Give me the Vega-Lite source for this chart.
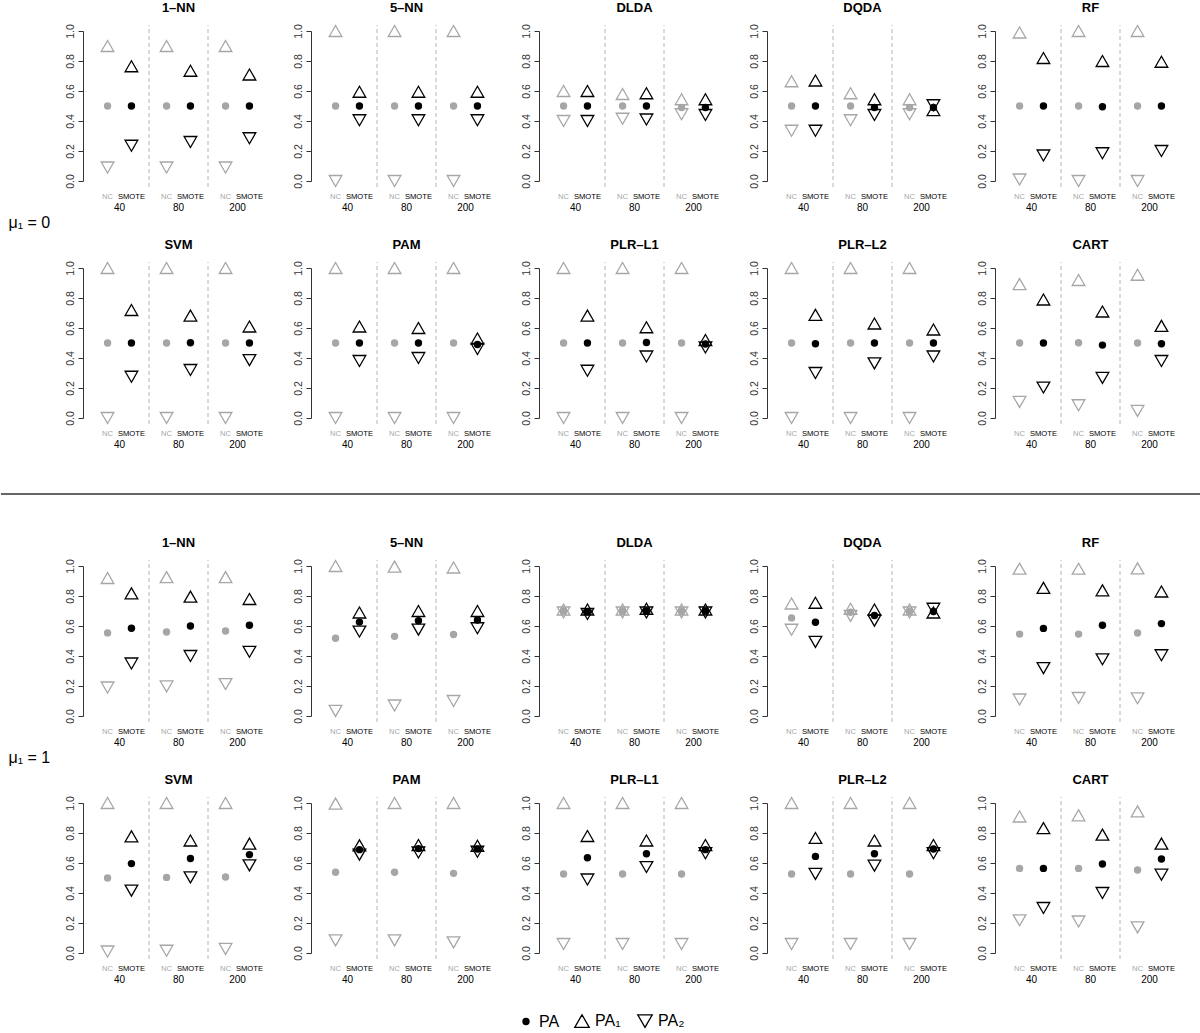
{
  "$schema": "https://vega.github.io/schema/vega-lite/v6.json",
  "padding": {"left": 0, "top": 2, "right": 0, "bottom": 0},
  "background": "white",
  "data": {"values": [
    {"mu":0,"m":"1–NN","n":"40","t":"NC","PA":0.5,"PA1":0.9,"PA2":0.09},
    {"mu":0,"m":"1–NN","n":"40","t":"SMOTE","PA":0.5,"PA1":0.765,"PA2":0.235},
    {"mu":0,"m":"1–NN","n":"80","t":"NC","PA":0.5,"PA1":0.9,"PA2":0.09},
    {"mu":0,"m":"1–NN","n":"80","t":"SMOTE","PA":0.5,"PA1":0.735,"PA2":0.26},
    {"mu":0,"m":"1–NN","n":"200","t":"NC","PA":0.5,"PA1":0.9,"PA2":0.09},
    {"mu":0,"m":"1–NN","n":"200","t":"SMOTE","PA":0.5,"PA1":0.71,"PA2":0.285},
    {"mu":0,"m":"5–NN","n":"40","t":"NC","PA":0.5,"PA1":1.0,"PA2":0.0},
    {"mu":0,"m":"5–NN","n":"40","t":"SMOTE","PA":0.5,"PA1":0.595,"PA2":0.405},
    {"mu":0,"m":"5–NN","n":"80","t":"NC","PA":0.5,"PA1":1.0,"PA2":0.0},
    {"mu":0,"m":"5–NN","n":"80","t":"SMOTE","PA":0.5,"PA1":0.595,"PA2":0.405},
    {"mu":0,"m":"5–NN","n":"200","t":"NC","PA":0.5,"PA1":1.0,"PA2":0.0},
    {"mu":0,"m":"5–NN","n":"200","t":"SMOTE","PA":0.5,"PA1":0.595,"PA2":0.405},
    {"mu":0,"m":"DLDA","n":"40","t":"NC","PA":0.5,"PA1":0.6,"PA2":0.4},
    {"mu":0,"m":"DLDA","n":"40","t":"SMOTE","PA":0.5,"PA1":0.6,"PA2":0.4},
    {"mu":0,"m":"DLDA","n":"80","t":"NC","PA":0.5,"PA1":0.58,"PA2":0.415},
    {"mu":0,"m":"DLDA","n":"80","t":"SMOTE","PA":0.5,"PA1":0.585,"PA2":0.41},
    {"mu":0,"m":"DLDA","n":"200","t":"NC","PA":0.49,"PA1":0.545,"PA2":0.445},
    {"mu":0,"m":"DLDA","n":"200","t":"SMOTE","PA":0.49,"PA1":0.545,"PA2":0.44},
    {"mu":0,"m":"DQDA","n":"40","t":"NC","PA":0.5,"PA1":0.665,"PA2":0.335},
    {"mu":0,"m":"DQDA","n":"40","t":"SMOTE","PA":0.5,"PA1":0.67,"PA2":0.335},
    {"mu":0,"m":"DQDA","n":"80","t":"NC","PA":0.5,"PA1":0.585,"PA2":0.405},
    {"mu":0,"m":"DQDA","n":"80","t":"SMOTE","PA":0.49,"PA1":0.545,"PA2":0.44},
    {"mu":0,"m":"DQDA","n":"200","t":"NC","PA":0.49,"PA1":0.545,"PA2":0.445},
    {"mu":0,"m":"DQDA","n":"200","t":"SMOTE","PA":0.49,"PA1":0.473,"PA2":0.505},
    {"mu":0,"m":"RF","n":"40","t":"NC","PA":0.5,"PA1":0.99,"PA2":0.01},
    {"mu":0,"m":"RF","n":"40","t":"SMOTE","PA":0.5,"PA1":0.82,"PA2":0.17},
    {"mu":0,"m":"RF","n":"80","t":"NC","PA":0.5,"PA1":1.0,"PA2":0.0},
    {"mu":0,"m":"RF","n":"80","t":"SMOTE","PA":0.495,"PA1":0.8,"PA2":0.185},
    {"mu":0,"m":"RF","n":"200","t":"NC","PA":0.5,"PA1":1.0,"PA2":0.0},
    {"mu":0,"m":"RF","n":"200","t":"SMOTE","PA":0.5,"PA1":0.795,"PA2":0.2},
    {"mu":0,"m":"SVM","n":"40","t":"NC","PA":0.5,"PA1":1.0,"PA2":0.0},
    {"mu":0,"m":"SVM","n":"40","t":"SMOTE","PA":0.5,"PA1":0.72,"PA2":0.275},
    {"mu":0,"m":"SVM","n":"80","t":"NC","PA":0.5,"PA1":1.0,"PA2":0.0},
    {"mu":0,"m":"SVM","n":"80","t":"SMOTE","PA":0.502,"PA1":0.683,"PA2":0.32},
    {"mu":0,"m":"SVM","n":"200","t":"NC","PA":0.5,"PA1":1.0,"PA2":0.0},
    {"mu":0,"m":"SVM","n":"200","t":"SMOTE","PA":0.5,"PA1":0.61,"PA2":0.386},
    {"mu":0,"m":"PAM","n":"40","t":"NC","PA":0.5,"PA1":1.0,"PA2":0.0},
    {"mu":0,"m":"PAM","n":"40","t":"SMOTE","PA":0.5,"PA1":0.61,"PA2":0.38},
    {"mu":0,"m":"PAM","n":"80","t":"NC","PA":0.5,"PA1":1.0,"PA2":0.0},
    {"mu":0,"m":"PAM","n":"80","t":"SMOTE","PA":0.5,"PA1":0.6,"PA2":0.4},
    {"mu":0,"m":"PAM","n":"200","t":"NC","PA":0.5,"PA1":1.0,"PA2":0.0},
    {"mu":0,"m":"PAM","n":"200","t":"SMOTE","PA":0.49,"PA1":0.53,"PA2":0.46},
    {"mu":0,"m":"PLR–L1","n":"40","t":"NC","PA":0.5,"PA1":1.0,"PA2":0.0},
    {"mu":0,"m":"PLR–L1","n":"40","t":"SMOTE","PA":0.5,"PA1":0.683,"PA2":0.315},
    {"mu":0,"m":"PLR–L1","n":"80","t":"NC","PA":0.5,"PA1":1.0,"PA2":0.0},
    {"mu":0,"m":"PLR–L1","n":"80","t":"SMOTE","PA":0.503,"PA1":0.605,"PA2":0.41},
    {"mu":0,"m":"PLR–L1","n":"200","t":"NC","PA":0.5,"PA1":1.0,"PA2":0.0},
    {"mu":0,"m":"PLR–L1","n":"200","t":"SMOTE","PA":0.493,"PA1":0.52,"PA2":0.47},
    {"mu":0,"m":"PLR–L2","n":"40","t":"NC","PA":0.5,"PA1":1.0,"PA2":0.0},
    {"mu":0,"m":"PLR–L2","n":"40","t":"SMOTE","PA":0.495,"PA1":0.688,"PA2":0.3},
    {"mu":0,"m":"PLR–L2","n":"80","t":"NC","PA":0.5,"PA1":1.0,"PA2":0.0},
    {"mu":0,"m":"PLR–L2","n":"80","t":"SMOTE","PA":0.5,"PA1":0.63,"PA2":0.364},
    {"mu":0,"m":"PLR–L2","n":"200","t":"NC","PA":0.5,"PA1":1.0,"PA2":0.0},
    {"mu":0,"m":"PLR–L2","n":"200","t":"SMOTE","PA":0.5,"PA1":0.59,"PA2":0.41},
    {"mu":0,"m":"CART","n":"40","t":"NC","PA":0.5,"PA1":0.893,"PA2":0.107},
    {"mu":0,"m":"CART","n":"40","t":"SMOTE","PA":0.5,"PA1":0.79,"PA2":0.203},
    {"mu":0,"m":"CART","n":"80","t":"NC","PA":0.502,"PA1":0.92,"PA2":0.085},
    {"mu":0,"m":"CART","n":"80","t":"SMOTE","PA":0.486,"PA1":0.71,"PA2":0.267},
    {"mu":0,"m":"CART","n":"200","t":"NC","PA":0.5,"PA1":0.955,"PA2":0.047},
    {"mu":0,"m":"CART","n":"200","t":"SMOTE","PA":0.495,"PA1":0.614,"PA2":0.38},
    {"mu":1,"m":"1–NN","n":"40","t":"NC","PA":0.554,"PA1":0.92,"PA2":0.19},
    {"mu":1,"m":"1–NN","n":"40","t":"SMOTE","PA":0.585,"PA1":0.818,"PA2":0.35},
    {"mu":1,"m":"1–NN","n":"80","t":"NC","PA":0.56,"PA1":0.926,"PA2":0.197},
    {"mu":1,"m":"1–NN","n":"80","t":"SMOTE","PA":0.6,"PA1":0.796,"PA2":0.4},
    {"mu":1,"m":"1–NN","n":"200","t":"NC","PA":0.567,"PA1":0.926,"PA2":0.213},
    {"mu":1,"m":"1–NN","n":"200","t":"SMOTE","PA":0.605,"PA1":0.78,"PA2":0.428},
    {"mu":1,"m":"5–NN","n":"40","t":"NC","PA":0.518,"PA1":1.0,"PA2":0.034},
    {"mu":1,"m":"5–NN","n":"40","t":"SMOTE","PA":0.626,"PA1":0.69,"PA2":0.563},
    {"mu":1,"m":"5–NN","n":"80","t":"NC","PA":0.531,"PA1":0.996,"PA2":0.07},
    {"mu":1,"m":"5–NN","n":"80","t":"SMOTE","PA":0.635,"PA1":0.7,"PA2":0.576},
    {"mu":1,"m":"5–NN","n":"200","t":"NC","PA":0.543,"PA1":0.99,"PA2":0.1},
    {"mu":1,"m":"5–NN","n":"200","t":"SMOTE","PA":0.64,"PA1":0.7,"PA2":0.585},
    {"mu":1,"m":"DLDA","n":"40","t":"NC","PA":0.7,"PA1":0.71,"PA2":0.69},
    {"mu":1,"m":"DLDA","n":"40","t":"SMOTE","PA":0.695,"PA1":0.71,"PA2":0.68},
    {"mu":1,"m":"DLDA","n":"80","t":"NC","PA":0.7,"PA1":0.71,"PA2":0.69},
    {"mu":1,"m":"DLDA","n":"80","t":"SMOTE","PA":0.7,"PA1":0.715,"PA2":0.69},
    {"mu":1,"m":"DLDA","n":"200","t":"NC","PA":0.7,"PA1":0.71,"PA2":0.69},
    {"mu":1,"m":"DLDA","n":"200","t":"SMOTE","PA":0.7,"PA1":0.71,"PA2":0.69},
    {"mu":1,"m":"DQDA","n":"40","t":"NC","PA":0.654,"PA1":0.75,"PA2":0.575},
    {"mu":1,"m":"DQDA","n":"40","t":"SMOTE","PA":0.625,"PA1":0.755,"PA2":0.494},
    {"mu":1,"m":"DQDA","n":"80","t":"NC","PA":0.692,"PA1":0.715,"PA2":0.667},
    {"mu":1,"m":"DQDA","n":"80","t":"SMOTE","PA":0.67,"PA1":0.71,"PA2":0.636},
    {"mu":1,"m":"DQDA","n":"200","t":"NC","PA":0.697,"PA1":0.71,"PA2":0.69},
    {"mu":1,"m":"DQDA","n":"200","t":"SMOTE","PA":0.697,"PA1":0.69,"PA2":0.715},
    {"mu":1,"m":"RF","n":"40","t":"NC","PA":0.546,"PA1":0.982,"PA2":0.11},
    {"mu":1,"m":"RF","n":"40","t":"SMOTE","PA":0.584,"PA1":0.854,"PA2":0.319},
    {"mu":1,"m":"RF","n":"80","t":"NC","PA":0.546,"PA1":0.982,"PA2":0.12},
    {"mu":1,"m":"RF","n":"80","t":"SMOTE","PA":0.605,"PA1":0.838,"PA2":0.378},
    {"mu":1,"m":"RF","n":"200","t":"NC","PA":0.553,"PA1":0.984,"PA2":0.118},
    {"mu":1,"m":"RF","n":"200","t":"SMOTE","PA":0.616,"PA1":0.83,"PA2":0.405},
    {"mu":1,"m":"SVM","n":"40","t":"NC","PA":0.5,"PA1":1.0,"PA2":0.01},
    {"mu":1,"m":"SVM","n":"40","t":"SMOTE","PA":0.596,"PA1":0.778,"PA2":0.416},
    {"mu":1,"m":"SVM","n":"80","t":"NC","PA":0.504,"PA1":1.0,"PA2":0.015},
    {"mu":1,"m":"SVM","n":"80","t":"SMOTE","PA":0.63,"PA1":0.75,"PA2":0.504},
    {"mu":1,"m":"SVM","n":"200","t":"NC","PA":0.507,"PA1":1.0,"PA2":0.027},
    {"mu":1,"m":"SVM","n":"200","t":"SMOTE","PA":0.656,"PA1":0.729,"PA2":0.584},
    {"mu":1,"m":"PAM","n":"40","t":"NC","PA":0.538,"PA1":0.996,"PA2":0.084},
    {"mu":1,"m":"PAM","n":"40","t":"SMOTE","PA":0.689,"PA1":0.718,"PA2":0.656},
    {"mu":1,"m":"PAM","n":"80","t":"NC","PA":0.538,"PA1":1.0,"PA2":0.084},
    {"mu":1,"m":"PAM","n":"80","t":"SMOTE","PA":0.696,"PA1":0.72,"PA2":0.67},
    {"mu":1,"m":"PAM","n":"200","t":"NC","PA":0.531,"PA1":1.0,"PA2":0.071},
    {"mu":1,"m":"PAM","n":"200","t":"SMOTE","PA":0.693,"PA1":0.715,"PA2":0.675},
    {"mu":1,"m":"PLR–L1","n":"40","t":"NC","PA":0.527,"PA1":1.0,"PA2":0.06},
    {"mu":1,"m":"PLR–L1","n":"40","t":"SMOTE","PA":0.635,"PA1":0.78,"PA2":0.49},
    {"mu":1,"m":"PLR–L1","n":"80","t":"NC","PA":0.527,"PA1":1.0,"PA2":0.06},
    {"mu":1,"m":"PLR–L1","n":"80","t":"SMOTE","PA":0.662,"PA1":0.75,"PA2":0.573},
    {"mu":1,"m":"PLR–L1","n":"200","t":"NC","PA":0.527,"PA1":1.0,"PA2":0.06},
    {"mu":1,"m":"PLR–L1","n":"200","t":"SMOTE","PA":0.689,"PA1":0.72,"PA2":0.665},
    {"mu":1,"m":"PLR–L2","n":"40","t":"NC","PA":0.527,"PA1":1.0,"PA2":0.06},
    {"mu":1,"m":"PLR–L2","n":"40","t":"SMOTE","PA":0.644,"PA1":0.767,"PA2":0.527},
    {"mu":1,"m":"PLR–L2","n":"80","t":"NC","PA":0.527,"PA1":1.0,"PA2":0.06},
    {"mu":1,"m":"PLR–L2","n":"80","t":"SMOTE","PA":0.662,"PA1":0.75,"PA2":0.582},
    {"mu":1,"m":"PLR–L2","n":"200","t":"NC","PA":0.527,"PA1":1.0,"PA2":0.06},
    {"mu":1,"m":"PLR–L2","n":"200","t":"SMOTE","PA":0.693,"PA1":0.72,"PA2":0.665},
    {"mu":1,"m":"CART","n":"40","t":"NC","PA":0.564,"PA1":0.91,"PA2":0.218},
    {"mu":1,"m":"CART","n":"40","t":"SMOTE","PA":0.564,"PA1":0.833,"PA2":0.3},
    {"mu":1,"m":"CART","n":"80","t":"NC","PA":0.564,"PA1":0.918,"PA2":0.21},
    {"mu":1,"m":"CART","n":"80","t":"SMOTE","PA":0.593,"PA1":0.789,"PA2":0.4},
    {"mu":1,"m":"CART","n":"200","t":"NC","PA":0.553,"PA1":0.944,"PA2":0.171},
    {"mu":1,"m":"CART","n":"200","t":"SMOTE","PA":0.627,"PA1":0.729,"PA2":0.522}
  ]},
  "config": {
    "view": {"stroke": null},
    "font": "Liberation Sans",
    "header": {"labelFontSize": 13, "labelFontWeight": "bold", "labelFont": "Liberation Sans", "labelColor": "black", "labelPadding": 7},
    "title": {"fontSize": 16, "fontWeight": "normal", "color": "black", "font": "Liberation Sans"},
    "axisX": {"domain": false, "ticks": false, "grid": false, "labelAngle": 0, "labelPadding": 1, "labelFontSize": 10, "labelColor": "black", "labelFont": "Liberation Sans"},
    "axisY": {"grid": false, "tickCount": 5, "format": ".1f", "labelAngle": -90, "offset": 7, "tickSize": 5, "domainColor": "#333333", "tickColor": "#333333", "labelColor": "#333333", "labelFontSize": 10.5, "labelPadding": 3, "labelFont": "Liberation Sans"},
    "legend": {"layout": {"bottom": {"anchor": "middle", "margin": 14, "center": true}}}
  },
  "spacing": 0,
  "vconcat": [
    {
      "spacing": 8,
      "vconcat": [
        {
          "title": {"text": "μ₁ = 0", "orient": "bottom", "anchor": "start", "dx": -56.5, "offset": 3},
          "transform": [{"filter": {"field": "mu", "equal": 0}}, {"filter": {"field": "m", "oneOf": ["1–NN","5–NN","DLDA","DQDA","RF"]}}],
          "facet": {"column": {"field": "m", "title": null, "sort": ["1–NN","5–NN","DLDA","DQDA","RF"]}},
          "spacing": {"column": 26},
          "resolve": {"axis": {"y": "independent"}},
          "spec": {
            "width": 177, "height": 150,
            "layer": [
              {"transform": [{"filter": "datum.t == 'NC' && datum.n != '40'"}],
               "mark": {"type": "rule", "strokeDash": [4, 3], "color": "#b4b4b4", "strokeWidth": 1},
               "encoding": {"x": {"field": "n", "type": "ordinal", "title": null, "sort": ["40","80","200"], "scale": {"type": "band", "paddingInner": 0, "paddingOuter": 0}, "bandPosition": 0},
                            "y": {"datum": -0.04, "type": "quantitative", "scale": {"domain": [0, 1]}}, "y2": {"datum": 1.04}}},
              {"mark": {"type": "text", "fontSize": 7.6, "baseline": "middle"},
               "encoding": {"x": {"field": "n", "type": "ordinal", "title": null, "sort": ["40","80","200"], "scale": {"type": "band", "paddingInner": 0, "paddingOuter": 0}},
                            "xOffset": {"field": "t", "type": "nominal", "sort": ["NC","SMOTE"], "scale": {"type": "band", "paddingInner": 0, "paddingOuter": 0.235}},
                            "y": {"datum": -0.107, "type": "quantitative"},
                            "text": {"field": "t"},
                            "color": {"field": "t", "type": "nominal", "scale": {"domain": ["NC","SMOTE"], "range": ["#a6a6a6","#000000"]}, "legend": null}}},
              {"mark": {"type": "point", "shape": "circle", "filled": true, "opacity": 1},
               "encoding": {"x": {"field": "n", "type": "ordinal", "title": null, "sort": ["40","80","200"], "scale": {"type": "band", "paddingInner": 0, "paddingOuter": 0}},
                            "xOffset": {"field": "t", "type": "nominal", "sort": ["NC","SMOTE"], "scale": {"type": "band", "paddingInner": 0, "paddingOuter": 0.235}},
                            "y": {"field": "PA", "type": "quantitative", "title": null, "scale": {"domain": [0, 1]}},
                            "color": {"field": "t", "type": "nominal", "scale": {"domain": ["NC","SMOTE"], "range": ["#a6a6a6","#000000"]}, "legend": null},
                            "size": {"datum": "PA", "type": "ordinal", "scale": {"domain": ["PA"], "range": [55, 55]},
                                     "legend": {"title": null, "orient": "bottom", "direction": "horizontal", "offset": 8, "labelFontSize": 16, "labelColor": "black", "symbolType": "circle", "symbolFillColor": "black", "symbolStrokeColor": "black", "symbolStrokeWidth": 0, "labelOffset": 5}}}},
              {"transform": [{"fold": ["PA1","PA2"], "as": ["measure","value"]}],
               "mark": {"type": "point", "filled": false, "size": 160, "strokeWidth": 1.3, "opacity": 1},
               "encoding": {"x": {"field": "n", "type": "ordinal", "title": null, "sort": ["40","80","200"], "scale": {"type": "band", "paddingInner": 0, "paddingOuter": 0}},
                            "xOffset": {"field": "t", "type": "nominal", "sort": ["NC","SMOTE"], "scale": {"type": "band", "paddingInner": 0, "paddingOuter": 0.235}},
                            "y": {"field": "value", "type": "quantitative", "title": null, "scale": {"domain": [0, 1]}},
                            "color": {"field": "t", "type": "nominal", "scale": {"domain": ["NC","SMOTE"], "range": ["#a6a6a6","#000000"]}, "legend": null},
                            "shape": {"field": "measure", "type": "nominal", "scale": {"domain": ["PA1","PA2"], "range": ["triangle-up","triangle-down"]},
                                      "legend": {"title": null, "orient": "bottom", "direction": "horizontal", "offset": 8, "labelFontSize": 16, "labelColor": "black", "symbolSize": 210, "symbolStrokeWidth": 1.3, "symbolStrokeColor": "black", "symbolFillColor": "transparent", "columnPadding": 14, "labelOffset": 5,
                                                 "labelExpr": "datum.value == 'PA1' ? 'PA₁' : 'PA₂'"}}}}
            ]
          }
        },
        {
          "title": {"text": "  ", "orient": "bottom", "anchor": "start", "dx": -56.5, "offset": 5},
          "transform": [{"filter": {"field": "mu", "equal": 0}}, {"filter": {"field": "m", "oneOf": ["SVM","PAM","PLR–L1","PLR–L2","CART"]}}],
          "facet": {"column": {"field": "m", "title": null, "sort": ["SVM","PAM","PLR–L1","PLR–L2","CART"]}},
          "spacing": {"column": 26},
          "resolve": {"axis": {"y": "independent"}},
          "spec": {
            "width": 177, "height": 150,
            "layer": [
              {"transform": [{"filter": "datum.t == 'NC' && datum.n != '40'"}],
               "mark": {"type": "rule", "strokeDash": [4, 3], "color": "#b4b4b4", "strokeWidth": 1},
               "encoding": {"x": {"field": "n", "type": "ordinal", "title": null, "sort": ["40","80","200"], "scale": {"type": "band", "paddingInner": 0, "paddingOuter": 0}, "bandPosition": 0},
                            "y": {"datum": -0.04, "type": "quantitative", "scale": {"domain": [0, 1]}}, "y2": {"datum": 1.04}}},
              {"mark": {"type": "text", "fontSize": 7.6, "baseline": "middle"},
               "encoding": {"x": {"field": "n", "type": "ordinal", "title": null, "sort": ["40","80","200"], "scale": {"type": "band", "paddingInner": 0, "paddingOuter": 0}},
                            "xOffset": {"field": "t", "type": "nominal", "sort": ["NC","SMOTE"], "scale": {"type": "band", "paddingInner": 0, "paddingOuter": 0.235}},
                            "y": {"datum": -0.107, "type": "quantitative"},
                            "text": {"field": "t"},
                            "color": {"field": "t", "type": "nominal", "scale": {"domain": ["NC","SMOTE"], "range": ["#a6a6a6","#000000"]}, "legend": null}}},
              {"mark": {"type": "point", "shape": "circle", "filled": true, "opacity": 1},
               "encoding": {"x": {"field": "n", "type": "ordinal", "title": null, "sort": ["40","80","200"], "scale": {"type": "band", "paddingInner": 0, "paddingOuter": 0}},
                            "xOffset": {"field": "t", "type": "nominal", "sort": ["NC","SMOTE"], "scale": {"type": "band", "paddingInner": 0, "paddingOuter": 0.235}},
                            "y": {"field": "PA", "type": "quantitative", "title": null, "scale": {"domain": [0, 1]}},
                            "color": {"field": "t", "type": "nominal", "scale": {"domain": ["NC","SMOTE"], "range": ["#a6a6a6","#000000"]}, "legend": null},
                            "size": {"datum": "PA", "type": "ordinal", "scale": {"domain": ["PA"], "range": [55, 55]},
                                     "legend": {"title": null, "orient": "bottom", "direction": "horizontal", "offset": 8, "labelFontSize": 16, "labelColor": "black", "symbolType": "circle", "symbolFillColor": "black", "symbolStrokeColor": "black", "symbolStrokeWidth": 0, "labelOffset": 5}}}},
              {"transform": [{"fold": ["PA1","PA2"], "as": ["measure","value"]}],
               "mark": {"type": "point", "filled": false, "size": 160, "strokeWidth": 1.3, "opacity": 1},
               "encoding": {"x": {"field": "n", "type": "ordinal", "title": null, "sort": ["40","80","200"], "scale": {"type": "band", "paddingInner": 0, "paddingOuter": 0}},
                            "xOffset": {"field": "t", "type": "nominal", "sort": ["NC","SMOTE"], "scale": {"type": "band", "paddingInner": 0, "paddingOuter": 0.235}},
                            "y": {"field": "value", "type": "quantitative", "title": null, "scale": {"domain": [0, 1]}},
                            "color": {"field": "t", "type": "nominal", "scale": {"domain": ["NC","SMOTE"], "range": ["#a6a6a6","#000000"]}, "legend": null},
                            "shape": {"field": "measure", "type": "nominal", "scale": {"domain": ["PA1","PA2"], "range": ["triangle-up","triangle-down"]},
                                      "legend": {"title": null, "orient": "bottom", "direction": "horizontal", "offset": 8, "labelFontSize": 16, "labelColor": "black", "symbolSize": 210, "symbolStrokeWidth": 1.3, "symbolStrokeColor": "black", "symbolFillColor": "transparent", "columnPadding": 14, "labelOffset": 5,
                                                 "labelExpr": "datum.value == 'PA1' ? 'PA₁' : 'PA₂'"}}}}
            ]
          }
        }
      ]
    },
    {
      "data": {"values": [{"k": "separator"}]},
      "width": 1111, "height": 67,
      "mark": {"type": "rule", "color": "#333333", "strokeWidth": 1.4},
      "encoding": {
        "x": {"datum": -89, "type": "quantitative", "scale": {"domain": [0, 1111]}, "axis": null},
        "x2": {"datum": 1111},
        "y": {"datum": 0.642, "type": "quantitative", "scale": {"domain": [0, 1]}, "axis": null}
      }
    },
    {
      "spacing": 8,
      "vconcat": [
        {
          "title": {"text": "μ₁ = 1", "orient": "bottom", "anchor": "start", "dx": -56.5, "offset": 3},
          "transform": [{"filter": {"field": "mu", "equal": 1}}, {"filter": {"field": "m", "oneOf": ["1–NN","5–NN","DLDA","DQDA","RF"]}}],
          "facet": {"column": {"field": "m", "title": null, "sort": ["1–NN","5–NN","DLDA","DQDA","RF"]}},
          "spacing": {"column": 26},
          "resolve": {"axis": {"y": "independent"}},
          "spec": {
            "width": 177, "height": 150,
            "layer": [
              {"transform": [{"filter": "datum.t == 'NC' && datum.n != '40'"}],
               "mark": {"type": "rule", "strokeDash": [4, 3], "color": "#b4b4b4", "strokeWidth": 1},
               "encoding": {"x": {"field": "n", "type": "ordinal", "title": null, "sort": ["40","80","200"], "scale": {"type": "band", "paddingInner": 0, "paddingOuter": 0}, "bandPosition": 0},
                            "y": {"datum": -0.04, "type": "quantitative", "scale": {"domain": [0, 1]}}, "y2": {"datum": 1.04}}},
              {"mark": {"type": "text", "fontSize": 7.6, "baseline": "middle"},
               "encoding": {"x": {"field": "n", "type": "ordinal", "title": null, "sort": ["40","80","200"], "scale": {"type": "band", "paddingInner": 0, "paddingOuter": 0}},
                            "xOffset": {"field": "t", "type": "nominal", "sort": ["NC","SMOTE"], "scale": {"type": "band", "paddingInner": 0, "paddingOuter": 0.235}},
                            "y": {"datum": -0.107, "type": "quantitative"},
                            "text": {"field": "t"},
                            "color": {"field": "t", "type": "nominal", "scale": {"domain": ["NC","SMOTE"], "range": ["#a6a6a6","#000000"]}, "legend": null}}},
              {"mark": {"type": "point", "shape": "circle", "filled": true, "opacity": 1},
               "encoding": {"x": {"field": "n", "type": "ordinal", "title": null, "sort": ["40","80","200"], "scale": {"type": "band", "paddingInner": 0, "paddingOuter": 0}},
                            "xOffset": {"field": "t", "type": "nominal", "sort": ["NC","SMOTE"], "scale": {"type": "band", "paddingInner": 0, "paddingOuter": 0.235}},
                            "y": {"field": "PA", "type": "quantitative", "title": null, "scale": {"domain": [0, 1]}},
                            "color": {"field": "t", "type": "nominal", "scale": {"domain": ["NC","SMOTE"], "range": ["#a6a6a6","#000000"]}, "legend": null},
                            "size": {"datum": "PA", "type": "ordinal", "scale": {"domain": ["PA"], "range": [55, 55]},
                                     "legend": {"title": null, "orient": "bottom", "direction": "horizontal", "offset": 8, "labelFontSize": 16, "labelColor": "black", "symbolType": "circle", "symbolFillColor": "black", "symbolStrokeColor": "black", "symbolStrokeWidth": 0, "labelOffset": 5}}}},
              {"transform": [{"fold": ["PA1","PA2"], "as": ["measure","value"]}],
               "mark": {"type": "point", "filled": false, "size": 160, "strokeWidth": 1.3, "opacity": 1},
               "encoding": {"x": {"field": "n", "type": "ordinal", "title": null, "sort": ["40","80","200"], "scale": {"type": "band", "paddingInner": 0, "paddingOuter": 0}},
                            "xOffset": {"field": "t", "type": "nominal", "sort": ["NC","SMOTE"], "scale": {"type": "band", "paddingInner": 0, "paddingOuter": 0.235}},
                            "y": {"field": "value", "type": "quantitative", "title": null, "scale": {"domain": [0, 1]}},
                            "color": {"field": "t", "type": "nominal", "scale": {"domain": ["NC","SMOTE"], "range": ["#a6a6a6","#000000"]}, "legend": null},
                            "shape": {"field": "measure", "type": "nominal", "scale": {"domain": ["PA1","PA2"], "range": ["triangle-up","triangle-down"]},
                                      "legend": {"title": null, "orient": "bottom", "direction": "horizontal", "offset": 8, "labelFontSize": 16, "labelColor": "black", "symbolSize": 210, "symbolStrokeWidth": 1.3, "symbolStrokeColor": "black", "symbolFillColor": "transparent", "columnPadding": 14, "labelOffset": 5,
                                                 "labelExpr": "datum.value == 'PA1' ? 'PA₁' : 'PA₂'"}}}}
            ]
          }
        },
        {
          "title": {"text": "  ", "orient": "bottom", "anchor": "start", "dx": -56.5, "offset": 5},
          "transform": [{"filter": {"field": "mu", "equal": 1}}, {"filter": {"field": "m", "oneOf": ["SVM","PAM","PLR–L1","PLR–L2","CART"]}}],
          "facet": {"column": {"field": "m", "title": null, "sort": ["SVM","PAM","PLR–L1","PLR–L2","CART"]}},
          "spacing": {"column": 26},
          "resolve": {"axis": {"y": "independent"}},
          "spec": {
            "width": 177, "height": 150,
            "layer": [
              {"transform": [{"filter": "datum.t == 'NC' && datum.n != '40'"}],
               "mark": {"type": "rule", "strokeDash": [4, 3], "color": "#b4b4b4", "strokeWidth": 1},
               "encoding": {"x": {"field": "n", "type": "ordinal", "title": null, "sort": ["40","80","200"], "scale": {"type": "band", "paddingInner": 0, "paddingOuter": 0}, "bandPosition": 0},
                            "y": {"datum": -0.04, "type": "quantitative", "scale": {"domain": [0, 1]}}, "y2": {"datum": 1.04}}},
              {"mark": {"type": "text", "fontSize": 7.6, "baseline": "middle"},
               "encoding": {"x": {"field": "n", "type": "ordinal", "title": null, "sort": ["40","80","200"], "scale": {"type": "band", "paddingInner": 0, "paddingOuter": 0}},
                            "xOffset": {"field": "t", "type": "nominal", "sort": ["NC","SMOTE"], "scale": {"type": "band", "paddingInner": 0, "paddingOuter": 0.235}},
                            "y": {"datum": -0.107, "type": "quantitative"},
                            "text": {"field": "t"},
                            "color": {"field": "t", "type": "nominal", "scale": {"domain": ["NC","SMOTE"], "range": ["#a6a6a6","#000000"]}, "legend": null}}},
              {"mark": {"type": "point", "shape": "circle", "filled": true, "opacity": 1},
               "encoding": {"x": {"field": "n", "type": "ordinal", "title": null, "sort": ["40","80","200"], "scale": {"type": "band", "paddingInner": 0, "paddingOuter": 0}},
                            "xOffset": {"field": "t", "type": "nominal", "sort": ["NC","SMOTE"], "scale": {"type": "band", "paddingInner": 0, "paddingOuter": 0.235}},
                            "y": {"field": "PA", "type": "quantitative", "title": null, "scale": {"domain": [0, 1]}},
                            "color": {"field": "t", "type": "nominal", "scale": {"domain": ["NC","SMOTE"], "range": ["#a6a6a6","#000000"]}, "legend": null},
                            "size": {"datum": "PA", "type": "ordinal", "scale": {"domain": ["PA"], "range": [55, 55]},
                                     "legend": {"title": null, "orient": "bottom", "direction": "horizontal", "offset": 8, "labelFontSize": 16, "labelColor": "black", "symbolType": "circle", "symbolFillColor": "black", "symbolStrokeColor": "black", "symbolStrokeWidth": 0, "labelOffset": 5}}}},
              {"transform": [{"fold": ["PA1","PA2"], "as": ["measure","value"]}],
               "mark": {"type": "point", "filled": false, "size": 160, "strokeWidth": 1.3, "opacity": 1},
               "encoding": {"x": {"field": "n", "type": "ordinal", "title": null, "sort": ["40","80","200"], "scale": {"type": "band", "paddingInner": 0, "paddingOuter": 0}},
                            "xOffset": {"field": "t", "type": "nominal", "sort": ["NC","SMOTE"], "scale": {"type": "band", "paddingInner": 0, "paddingOuter": 0.235}},
                            "y": {"field": "value", "type": "quantitative", "title": null, "scale": {"domain": [0, 1]}},
                            "color": {"field": "t", "type": "nominal", "scale": {"domain": ["NC","SMOTE"], "range": ["#a6a6a6","#000000"]}, "legend": null},
                            "shape": {"field": "measure", "type": "nominal", "scale": {"domain": ["PA1","PA2"], "range": ["triangle-up","triangle-down"]},
                                      "legend": {"title": null, "orient": "bottom", "direction": "horizontal", "offset": 8, "labelFontSize": 16, "labelColor": "black", "symbolSize": 210, "symbolStrokeWidth": 1.3, "symbolStrokeColor": "black", "symbolFillColor": "transparent", "columnPadding": 14, "labelOffset": 5,
                                                 "labelExpr": "datum.value == 'PA1' ? 'PA₁' : 'PA₂'"}}}}
            ]
          }
        }
      ]
    }
  ]
}
